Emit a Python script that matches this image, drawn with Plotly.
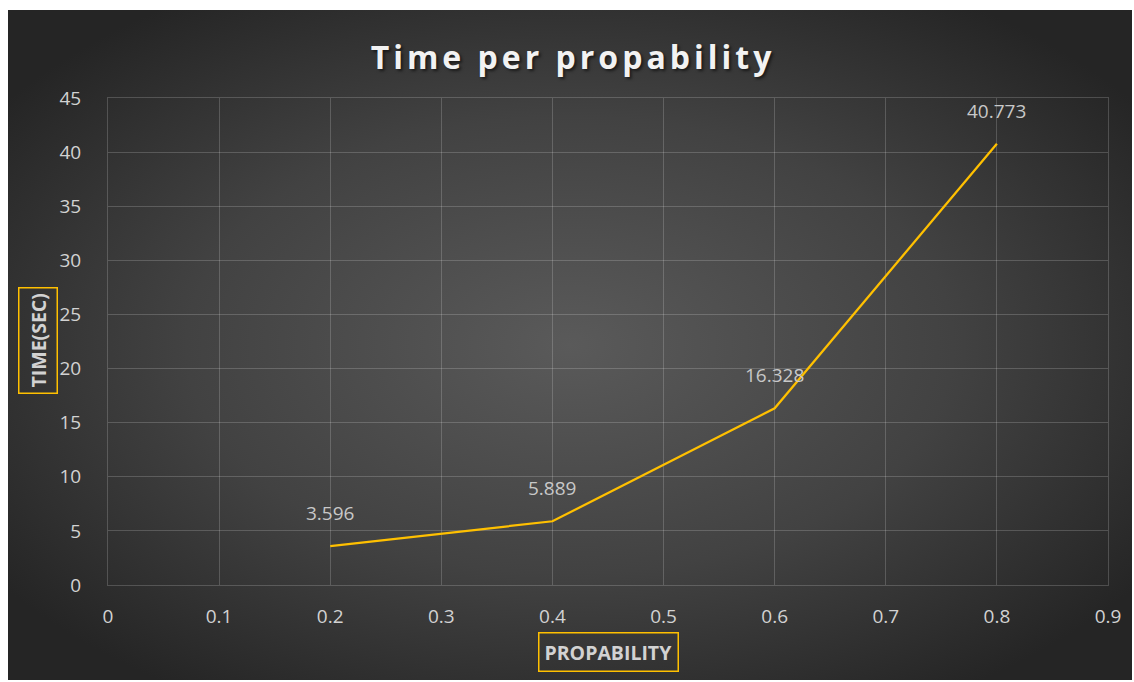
import base64
import plotly.graph_objects as go

# Measured run times for each probability setting
probability = [0.2, 0.4, 0.6, 0.8]
time_sec = [3.596, 5.889, 16.328, 40.773]
value_labels = ["3.596", "5.889", "16.328", "40.773"]

x_ticks = [0, 0.1, 0.2, 0.3, 0.4, 0.5, 0.6, 0.7, 0.8, 0.9]
x_tick_text = ["0", "0.1", "0.2", "0.3", "0.4", "0.5", "0.6", "0.7", "0.8", "0.9"]
y_ticks = [0, 5, 10, 15, 20, 25, 30, 35, 40, 45]
y_tick_text = ["0", "5", "10", "15", "20", "25", "30", "35", "40", "45"]

LINE = "#FFC000"
TICK = "#d2d2d2"
GRID = "rgba(255,255,255,0.18)"
FONT = "Open Sans"

W, H = 1134, 682
ML, MR, MT, MB = 108, 26, 98, 97
PW, PH = W - ML - MR, H - MT - MB

# Dark radial-gradient chart background as an inline SVG
svg = (
    '<svg xmlns="http://www.w3.org/2000/svg" width="1124" height="670" '
    'viewBox="0 0 1124 670" preserveAspectRatio="none">'
    '<defs><radialGradient id="g" cx="50%" cy="50%" r="62%" '
    'gradientUnits="objectBoundingBox">'
    '<stop offset="0" stop-color="#5a5a5a"/>'
    '<stop offset="0.55" stop-color="#424242"/>'
    '<stop offset="1" stop-color="#252525"/>'
    '</radialGradient></defs>'
    '<rect width="1124" height="670" fill="url(#g)"/></svg>'
)
bg_src = "data:image/svg+xml;base64," + base64.b64encode(svg.encode()).decode()


def px_x(p):
    return (p - ML) / PW


def px_y(p):
    return (H - MB - p) / PH


fig = go.Figure()
fig.add_trace(go.Scatter(
    x=probability, y=time_sec, mode="lines",
    line=dict(color=LINE, width=2.25),
    hoverinfo="x+y", showlegend=False,
))

# Value labels above each point
for xv, yv, lab in zip(probability, time_sec, value_labels):
    fig.add_annotation(
        x=xv, y=yv, text=lab, showarrow=False, yshift=33,
        font=dict(family=FONT, size=19, color="#c8c8c8"),
    )

# Boxed axis titles
fig.add_annotation(
    xref="paper", yref="paper", x=px_x(608), y=px_y(652),
    xanchor="center", yanchor="middle",
    text="<b>PROPABILITY</b>", showarrow=False,
    font=dict(family=FONT, size=19.5, color=TICK),
    bordercolor=LINE, borderwidth=1.5, borderpad=5,
)
fig.add_annotation(
    xref="paper", yref="paper", x=px_x(38), y=px_y(341),
    xanchor="center", yanchor="middle",
    text="<b>TIME(SEC)</b>", showarrow=False, textangle=-90,
    font=dict(family=FONT, size=19.5, color=TICK),
    bordercolor=LINE, borderwidth=1.5, borderpad=5,
)

fig.add_layout_image(
    source=bg_src, xref="paper", yref="paper",
    x=px_x(8), y=px_y(10),
    sizex=px_x(1132) - px_x(8), sizey=px_y(10) - px_y(680),
    xanchor="left", yanchor="top", sizing="stretch", layer="below",
)

axis_common = dict(
    showgrid=True, gridcolor=GRID, gridwidth=1,
    showline=True, linecolor=GRID, linewidth=1, mirror=True,
    zeroline=False, ticks="",
    tickfont=dict(family=FONT, size=19, color=TICK),
)

fig.update_layout(
    width=W, height=H,
    margin=dict(l=ML, r=MR, t=MT, b=MB),
    paper_bgcolor="white",
    plot_bgcolor="rgba(0,0,0,0)",
    title=dict(
        text="<b>Time per propability</b>",
        xref="container", yref="container",
        x=573 / W, y=1 - 58 / H, xanchor="center", yanchor="middle",
        font=dict(family=FONT, size=32, color="#f2f2f2",
                  shadow="2px 2px 3px rgba(0,0,0,0.55)"),
    ),
    xaxis=dict(range=[0, 0.9], tickvals=x_ticks, ticktext=x_tick_text,
               ticklabelstandoff=14, **axis_common),
    yaxis=dict(range=[0, 45], tickvals=y_ticks, ticktext=y_tick_text,
               ticklabelstandoff=22, **axis_common),
)

# Wider tracking on the chart title
letter_spacing_js = (
    "var t=document.querySelector('.gtitle');"
    "if(t){t.style.letterSpacing='4px';}"
)

fig.write_html("out.html", post_script=letter_spacing_js)
